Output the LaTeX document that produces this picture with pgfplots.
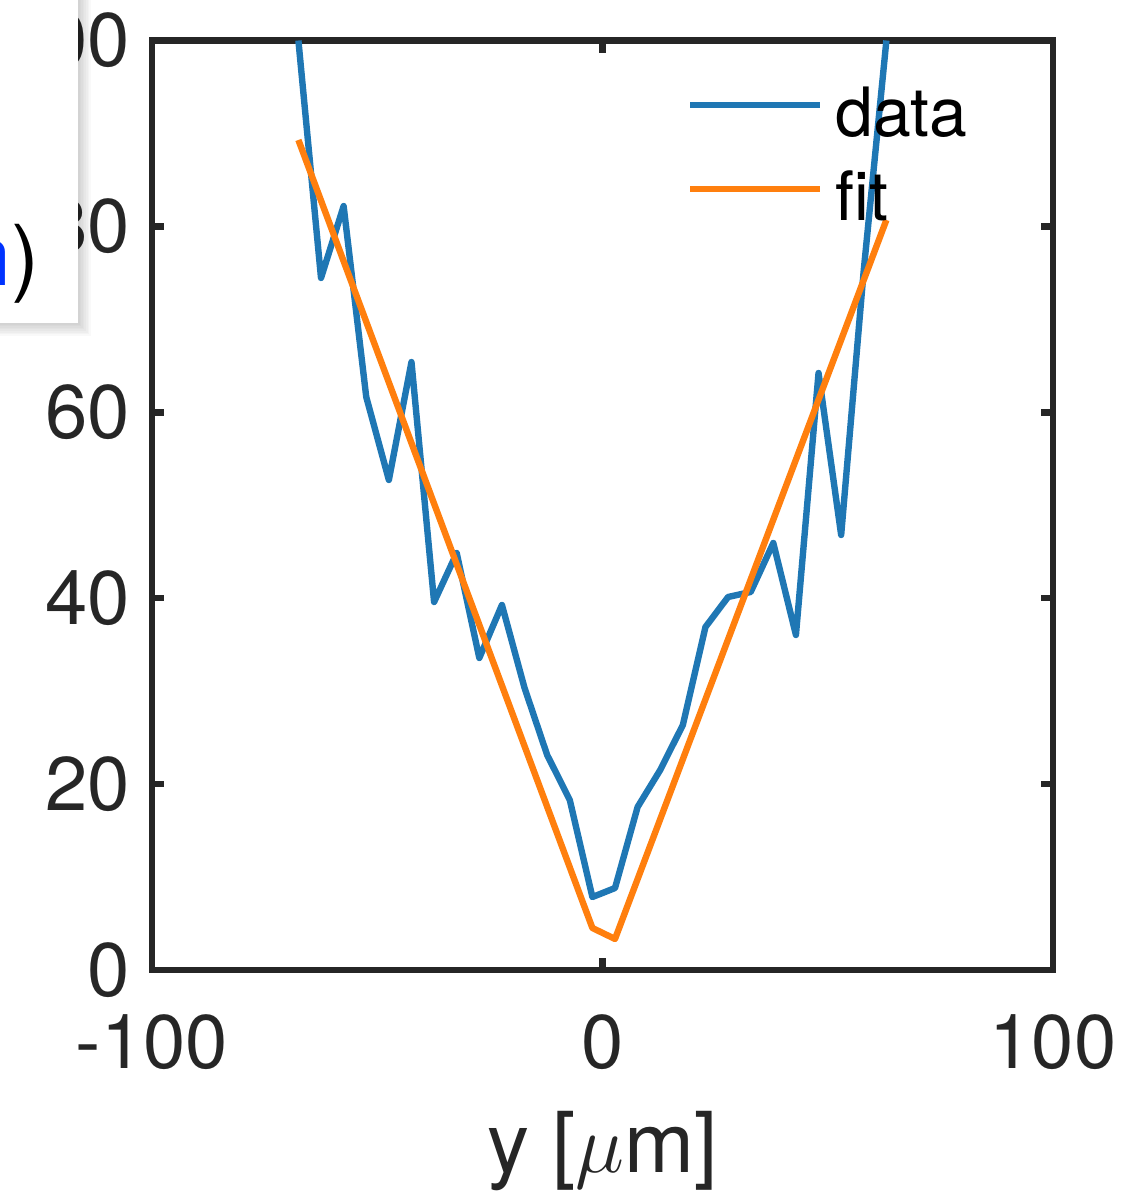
\documentclass[border=0pt]{standalone}
\usepackage{fontspec}
\setmainfont{TeX Gyre Heros}
\usepackage{pgfplots}
\pgfplotsset{compat=1.18}
\definecolor{mblue}{HTML}{1F77B4}
\definecolor{morange}{HTML}{FF7F0E}
\definecolor{axgray}{HTML}{262626}
\definecolor{nblue}{HTML}{0033FF}
\begin{document}
\begin{tikzpicture}
\begin{axis}[
  at={(0,0)}, anchor=south west,
  scale only axis, width=225.25pt, height=232.375pt,
  xmin=-100, xmax=100, ymin=0, ymax=100,
  xtick={-100,0,100}, xticklabels={-100,0,100},
  ytick={0,20,40,60,80,100}, yticklabels={0,20,40,60,80,100},
  tick align=inside, major tick length=3pt,
  axis line style={axgray, line width=1.6pt},
  major tick style={axgray, line width=1.6pt},
  tick label style={font=\fontsize{19}{22}\selectfont, text=axgray},
  xticklabel style={anchor=base, yshift=-24.5pt},
  yticklabel style={xshift=-2pt},
  xlabel={y [$\mu$m]},
  xlabel style={at={(axis description cs:0.5,0)}, anchor=base, yshift=-50.5pt, font=\fontsize{21}{25}\selectfont, text=axgray},
  legend image code/.code={\draw[#1] (0pt,1.75pt) -- (32.5pt,1.75pt);},
  legend style={draw=none, fill=none, at={(axis cs:18.75,95.0)}, anchor=north west,
    inner sep=0pt, outer sep=0pt, column sep=3pt, row sep=8.5pt,
    nodes={inner sep=0pt, text height=12.5pt, text depth=0pt, font=\fontsize{17}{20}\selectfont, text=black}},
  legend cell align=left,
]
\addplot[mblue, line width=1.6pt, line join=round] coordinates {
(-67.50,100.0) (-62.48,74.45) (-57.46,82.19) (-52.44,61.65) (-47.42,52.72)
(-42.40,65.41) (-37.38,39.59) (-32.36,44.86) (-27.34,33.57) (-22.32,39.27)
(-17.30,30.34) (-12.28,23.13) (-7.26,18.29) (-2.24,7.85) (2.78,8.82)
(7.80,17.54) (12.82,21.52) (17.84,26.36) (22.86,36.90) (27.88,40.13)
(32.90,40.67) (37.92,45.94) (42.94,36.04) (47.96,64.23) (52.98,46.80)
(58.00,75.31) (63.02,100.0)
};
\addlegendentry{data}
\addplot[morange, line width=1.6pt, line join=round] coordinates {
(-67.50,89.30) (-2.24,4.52) (2.78,3.34) (63.02,80.69)
};
\addlegendentry{fit}
\end{axis}
% overlay box (cropped annotation)
\foreach \i in {1,...,8} {\fill[black, opacity=0.025] (-50pt,260pt) rectangle ({-18.5pt+\i*0.4pt},{161.75pt-\i*0.4pt});}
\fill[white] (-50pt,260pt) rectangle (-18.5pt,161.75pt);
\begin{scope}
\clip (-50pt,260pt) rectangle (-18.5pt,161.75pt);
\node[anchor=base east, inner sep=0pt, font=\fontsize{21}{25}\selectfont] at (-28pt,171.25pt) {\textcolor{nblue}{n})};
\end{scope}
\pgfresetboundingbox
\useasboundingbox (-38pt,-55.5pt) rectangle (246.5pt,242.5pt);
\end{tikzpicture}
\end{document}
